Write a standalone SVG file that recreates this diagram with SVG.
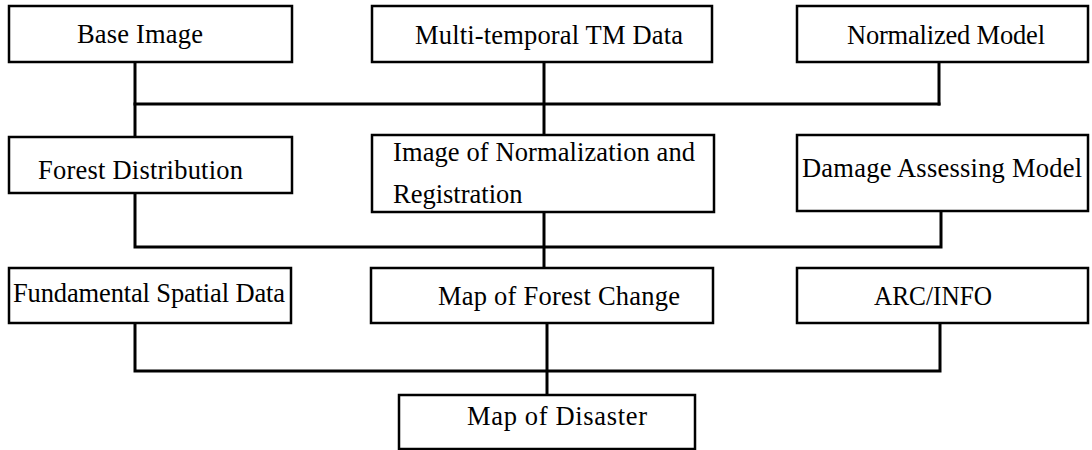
<svg xmlns="http://www.w3.org/2000/svg" width="1092" height="450" viewBox="0 0 1092 450">
  <style>
    .box { fill: #ffffff; stroke: #000000; stroke-width: 2.5; }
    .lbl { font-family: 'Liberation Serif', 'Noto Serif', 'DejaVu Serif', serif; font-size: 26.5px; fill: #000000; }
    .wire { fill: none; stroke: #000000; stroke-width: 3; stroke-linecap: square; }
  </style>
  <rect width="1092" height="450" fill="#ffffff"/>

  <!-- connectors -->
  <g id="connectors">
    <!-- row 1 to row 2 -->
    <path class="wire" d="M135,62 V137"/>
    <path class="wire" d="M544,62 V135"/>
    <path class="wire" d="M939,62 V104"/>
    <path class="wire" d="M135,104 H939"/>
    <!-- row 2 to row 3 -->
    <path class="wire" d="M135,193 V247 H941 V211"/>
    <path class="wire" d="M544,212 V268"/>
    <!-- row 3 to result -->
    <path class="wire" d="M135,323 V371 H940 V323"/>
    <path class="wire" d="M547,323 V395"/>
  </g>

  <g id="base-image">
    <rect class="box" x="9" y="6" width="283" height="56"/>
    <text class="lbl" font-family="Liberation Serif, serif" x="77" y="43" textLength="126" lengthAdjust="spacing">Base Image</text>
  </g>
  <g id="multi-temporal-tm">
    <rect class="box" x="372" y="6" width="340" height="56"/>
    <text class="lbl" x="415" y="44" textLength="268" lengthAdjust="spacing">Multi-temporal TM Data</text>
  </g>
  <g id="normalized-model">
    <rect class="box" x="797" y="6" width="291" height="56"/>
    <text class="lbl" x="847" y="44" textLength="198" lengthAdjust="spacing">Normalized Model</text>
  </g>

  <g id="forest-distribution">
    <rect class="box" x="9" y="137" width="283" height="56"/>
    <text class="lbl" x="38" y="179" textLength="205" lengthAdjust="spacing">Forest Distribution</text>
  </g>
  <g id="normalization-registration">
    <rect class="box" x="372" y="135" width="342" height="77"/>
    <text class="lbl" x="393" y="161" textLength="302" lengthAdjust="spacing">Image of Normalization and</text>
    <text class="lbl" x="393" y="203">Registration</text>
  </g>
  <g id="damage-model">
    <rect class="box" x="797" y="135" width="291" height="76"/>
    <text class="lbl" x="802" y="177" textLength="280" lengthAdjust="spacing">Damage Assessing Model</text>
  </g>

  <g id="fundamental-spatial-data">
    <rect class="box" x="9" y="268" width="282" height="55"/>
    <text class="lbl" x="13" y="302" textLength="272" lengthAdjust="spacing">Fundamental Spatial Data</text>
  </g>
  <g id="forest-change-map">
    <rect class="box" x="371" y="268" width="342" height="55"/>
    <text class="lbl" x="438" y="305" textLength="242" lengthAdjust="spacing">Map of Forest Change</text>
  </g>
  <g id="arc-info">
    <rect class="box" x="797" y="268" width="291" height="55"/>
    <text class="lbl" x="874" y="305" textLength="118" lengthAdjust="spacingAndGlyphs">ARC/INFO</text>
  </g>

  <g id="disaster-map">
    <rect class="box" x="399" y="395" width="296" height="54"/>
    <text class="lbl" x="467" y="425" textLength="180" lengthAdjust="spacing">Map of Disaster</text>
  </g>
</svg>
